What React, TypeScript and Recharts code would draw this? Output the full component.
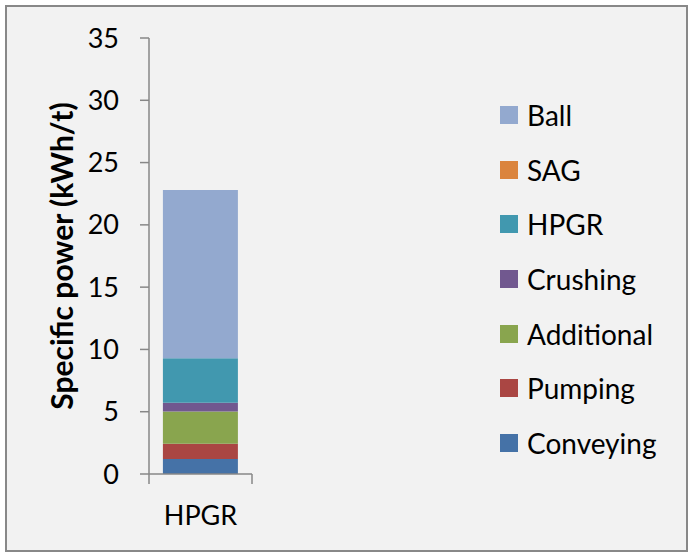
import React from 'react';
import { BarChart, Bar, XAxis, YAxis, Legend, Label } from 'recharts';

const categories = ['HPGR'];

// stack order, bottom segment first
const seriesNames = ['Conveying', 'Pumping', 'Additional', 'Crushing', 'HPGR', 'SAG', 'Ball'];
const seriesColors = ['#4572A7', '#AA4643', '#89A54E', '#71588F', '#4198AF', '#DB843D', '#93A9CF'];

const conveying = [1.2];
const pumping = [1.23];
const additional = [2.59];
const crushing = [0.7];
const hpgr = [3.58];
const sag = [0];
const ball = [13.5];

const yTicks = [0, 5, 10, 15, 20, 25, 30, 35];

const seriesValues = [conveying, pumping, additional, crushing, hpgr, sag, ball];

const data = categories.map((name, i) => {
  const row: Record<string, string | number> = { name };
  seriesNames.forEach((s, k) => {
    row[s] = seriesValues[k][i];
  });
  return row;
});

const FONT = 'Lato, "Open Sans", sans-serif';
const AXIS = '#878787';

// category label plus the boundary tick marks Excel draws between categories
const XTick = (props: any) => {
  const { x, y, payload, width, visibleTicksCount } = props;
  const half = width / (2 * (visibleTicksCount || 1));
  return (
    <g>
      <line x1={x - half} x2={x - half} y1={y - 10} y2={y} stroke={AXIS} strokeWidth={1.5} />
      <line x1={x + half} x2={x + half} y1={y - 10} y2={y} stroke={AXIS} strokeWidth={1.5} />
      <text x={x} y={y} dy={41} textAnchor="middle" fontSize={27} fontFamily={FONT} fill="#000">
        {payload.value}
      </text>
    </g>
  );
};

const renderLegend = () => {
  const items = seriesNames.map((n, i) => ({ name: n, color: seriesColors[i] })).reverse();
  return (
    <ul style={{ listStyle: 'none', margin: 0, padding: 0 }}>
      {items.map((it) => (
        <li
          key={it.name}
          style={{ height: 54.6, display: 'flex', alignItems: 'center', fontFamily: FONT, fontSize: 28, color: '#000' }}
        >
          <span style={{ display: 'inline-block', width: 18, height: 18, background: it.color, marginRight: 9 }} />
          {it.name}
        </li>
      ))}
    </ul>
  );
};

export default function App() {
  return (
    <div style={{ position: 'absolute', left: 0, top: 0, width: 693, height: 555, background: '#fff' }}>
      <div
        style={{
          position: 'absolute',
          left: 5,
          top: 5,
          width: 683,
          height: 547,
          boxSizing: 'border-box',
          border: '2px solid #888',
          background: '#f2f2f2',
        }}
      />
      <div style={{ position: 'absolute', left: 0, top: 0 }}>
        <BarChart
          width={693}
          height={555}
          data={data}
          margin={{ top: 38, right: 441, bottom: 21, left: 89 }}
          barCategoryGap="13.5%"
        >
          <XAxis
            dataKey="name"
            height={60}
            axisLine={{ stroke: AXIS, strokeWidth: 1.5 }}
            tickLine={false}
            tickSize={10}
            tickMargin={0}
            tick={<XTick />}
            interval={0}
          />
          <YAxis
            width={60}
            domain={[0, 35]}
            ticks={yTicks}
            interval={0}
            axisLine={{ stroke: AXIS, strokeWidth: 1.5 }}
            tickLine={{ stroke: AXIS, strokeWidth: 1.5 }}
            tickSize={9}
            tickMargin={21}
            tick={{ fontSize: 27, fontFamily: FONT, fill: '#000' }}
          >
            <Label
              value="Specific power (kWh/t)"
              angle={-90}
              position="center"
              dx={-57}
              style={{ fontSize: 30, fontWeight: 700, fontFamily: FONT, fill: '#000' }}
            />
          </YAxis>
          <Legend
            layout="vertical"
            align="center"
            verticalAlign="middle"
            content={renderLegend}
            wrapperStyle={{ left: 500, top: 88, width: 180 }}
          />
          {seriesNames.map((s, i) => (
            <Bar key={s} dataKey={s} name={s} stackId="a" fill={seriesColors[i]} isAnimationActive={false} />
          ))}
        </BarChart>
      </div>
    </div>
  );
}
